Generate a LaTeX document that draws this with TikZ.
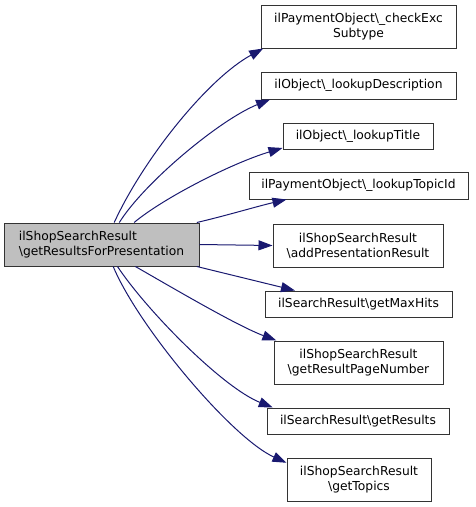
\documentclass[tikz,border=0pt]{standalone}
\usepackage{fontspec}
\setmainfont{DejaVu Sans}
\usetikzlibrary{arrows.meta}
\newcommand{\bsl}{\textbackslash}
\definecolor{edgeblue}{HTML}{191970}

\begin{document}
\begin{tikzpicture}[
  x=1pt, y=-1pt,
  font=\fontsize{12.3}{15}\selectfont,
  box/.style={draw=black!80, line width=1pt, align=center, inner sep=0pt, fill=white},
  root/.style={box, fill=black!25, align=left},
  arr/.style={draw=edgeblue, line width=1pt, -{Triangle[length=14pt,width=10pt]}}]
  \useasboundingbox (0,0) rectangle (475,507);
  \node[root, minimum width=195pt, minimum height=43pt] (main) at (101.5,244.5) {ilShopSearchResult\\\bsl getResultsForPresentation};
  \node[box, minimum width=195pt, minimum height=43pt] (chk)   at (358.5,26.5)  {ilPaymentObject\bsl\_checkExc\\Subtype};
  \node[box, minimum width=195pt, minimum height=27pt] (desc)  at (358.5,85.5)  {ilObject\bsl\_lookupDescription};
  \node[box, minimum width=150pt, minimum height=26pt] (title) at (358,136)     {ilObject\bsl\_lookupTitle};
  \node[box, minimum width=219pt, minimum height=27pt] (topic) at (358.5,185.5) {ilPaymentObject\bsl\_lookupTopicId};
  \node[box, minimum width=170pt, minimum height=43pt] (addp)  at (358,245.5)   {ilShopSearchResult\\\bsl addPresentationResult};
  \node[box, minimum width=187pt, minimum height=26pt] (maxh)  at (358.5,304)   {ilSearchResult\bsl getMaxHits};
  \node[box, minimum width=169pt, minimum height=43pt] (page)  at (358.5,362.5) {ilShopSearchResult\\\bsl getResultPageNumber};
  \node[box, minimum width=182pt, minimum height=26pt] (res)   at (358,421)     {ilSearchResult\bsl getResults};
  \node[box, minimum width=144pt, minimum height=43pt] (tops)  at (359,479.5)   {ilShopSearchResult\\\bsl getTopics};
  \draw[arr] (main.60)  .. controls +(30,-65) and +(-55,30) .. (chk.193);
  \draw[arr] (main.51)  .. controls +(25,-40) and +(-50,20) .. (desc.189);
  \draw[arr] (main.34)  .. controls +(30,-25) and +(-50,15) .. (title.189);
  \draw[arr] (main.13)  .. controls +(30,-7) and +(-30,7) .. (topic.191);
  \draw[arr] (main.east) -- (addp.west);
  \draw[arr] (main.-13) -- (maxh.168);
  \draw[arr] (main.-33) .. controls +(35,20) and +(-40,-15) .. (page.165);
  \draw[arr] (main.-54) .. controls +(30,45) and +(-50,-20) .. (res.171);
  \draw[arr] (main.-62) .. controls +(25,60) and +(-55,-25) .. (tops.167);
\end{tikzpicture}
\end{document}
